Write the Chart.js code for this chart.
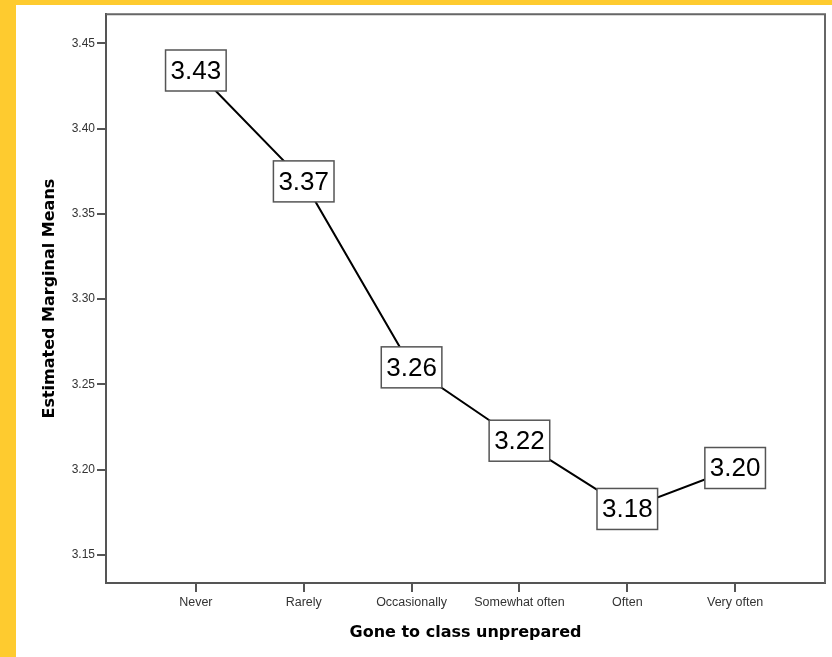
<!DOCTYPE html>
<html>
<head>
<meta charset="utf-8">
<script src="https://cdn.jsdelivr.net/npm/chart.js@4.4.1/dist/chart.umd.min.js"></script>
<style>
  html, body { margin: 0; padding: 0; }
  body { width: 832px; height: 657px; background: #FECB2F; position: relative; overflow: hidden; }
  #wrap { position: absolute; left: 16px; top: 5px; width: 816px; height: 652px; background: #fff; }
</style>
</head>
<body>
<div id="wrap"><canvas id="chart"></canvas></div>
<script>
// data
const categories = ['Never', 'Rarely', 'Occasionally', 'Somewhat often', 'Often', 'Very often'];
const means = [3.434, 3.369, 3.260, 3.217, 3.177, 3.201];
const yTicks = [3.15, 3.20, 3.25, 3.30, 3.35, 3.40, 3.45];

const axisColor = '#555';

// boxed value labels on top of each point
const valueBoxes = {
  id: 'valueBoxes',
  afterDatasetsDraw(chart) {
    const ctx = chart.ctx;
    const meta = chart.getDatasetMeta(0);
    ctx.save();
    ctx.font = '26px "Liberation Sans", Arial, sans-serif';
    ctx.textAlign = 'center';
    ctx.textBaseline = 'middle';
    meta.data.forEach((pt, i) => {
      const txt = means[i].toFixed(2);
      const w = ctx.measureText(txt).width + 10;
      const h = 41;
      ctx.fillStyle = '#fff';
      ctx.fillRect(pt.x - w / 2, pt.y - h / 2, w, h);
      ctx.strokeStyle = '#555';
      ctx.lineWidth = 1.5;
      ctx.strokeRect(pt.x - w / 2, pt.y - h / 2, w, h);
      ctx.fillStyle = '#000';
      ctx.fillText(txt, pt.x, pt.y + 1);
    });
    ctx.restore();
  }
};

// top and right edges of the plot frame
const frame = {
  id: 'frame',
  afterDraw(chart) {
    const a = chart.chartArea;
    const ctx = chart.ctx;
    ctx.save();
    ctx.strokeStyle = '#666';
    ctx.lineWidth = 2;
    ctx.beginPath();
    ctx.moveTo(a.left, a.top);
    ctx.lineTo(a.right, a.top);
    ctx.lineTo(a.right, a.bottom);
    ctx.stroke();
    ctx.restore();
  }
};

new Chart(document.getElementById('chart'), {
  type: 'line',
  data: {
    datasets: [{
      data: means.map((v, i) => ({ x: i, y: v })),
      borderColor: '#000',
      borderWidth: 2,
      pointRadius: 0,
      tension: 0,
      fill: false
    }]
  },
  options: {
    responsive: true,
    maintainAspectRatio: false,
    animation: false,
    layout: { padding: { top: 9, right: 7, left: 0, bottom: 0 } },
    plugins: {
      legend: { display: false },
      tooltip: { enabled: false }
    },
    scales: {
      x: {
        type: 'linear',
        min: -0.833,
        max: 5.833,
        afterBuildTicks: function(scale) {
          scale.ticks = categories.map((c, i) => ({ value: i }));
        },
        afterFit: function(scale) { scale.height = 74; },
        grid: { drawOnChartArea: false, tickLength: 9, color: axisColor, lineWidth: 2 },
        border: { display: true, color: axisColor, width: 2 },
        ticks: {
          padding: 3,
          color: '#333',
          font: { family: '"Liberation Sans", Arial, sans-serif', size: 12.5 },
          callback: function(value) { return categories[Math.round(value)]; }
        },
        title: {
          display: true,
          text: 'Gone to class unprepared',
          color: '#000',
          font: { family: '"DejaVu Sans", Verdana, sans-serif', size: 16, weight: 'bold' },
          padding: { top: 0, bottom: 15 }
        }
      },
      y: {
        min: 3.1336,
        max: 3.467,
        afterBuildTicks: function(scale) {
          scale.ticks = yTicks.map(v => ({ value: v }));
        },
        afterFit: function(scale) { scale.width = 90; },
        grid: { drawOnChartArea: false, tickLength: 9, color: axisColor, lineWidth: 2 },
        border: { display: true, color: axisColor, width: 2 },
        ticks: {
          padding: 2,
          color: '#333',
          font: { family: '"Liberation Sans", Arial, sans-serif', size: 12 },
          callback: function(value) { return value.toFixed(2); }
        },
        title: {
          display: true,
          text: 'Estimated Marginal Means',
          color: '#000',
          font: { family: '"DejaVu Sans", Verdana, sans-serif', size: 16, weight: 'bold' },
          padding: { top: 24, bottom: 0 }
        }
      }
    }
  },
  plugins: [valueBoxes, frame]
});
</script>
</body>
</html>
